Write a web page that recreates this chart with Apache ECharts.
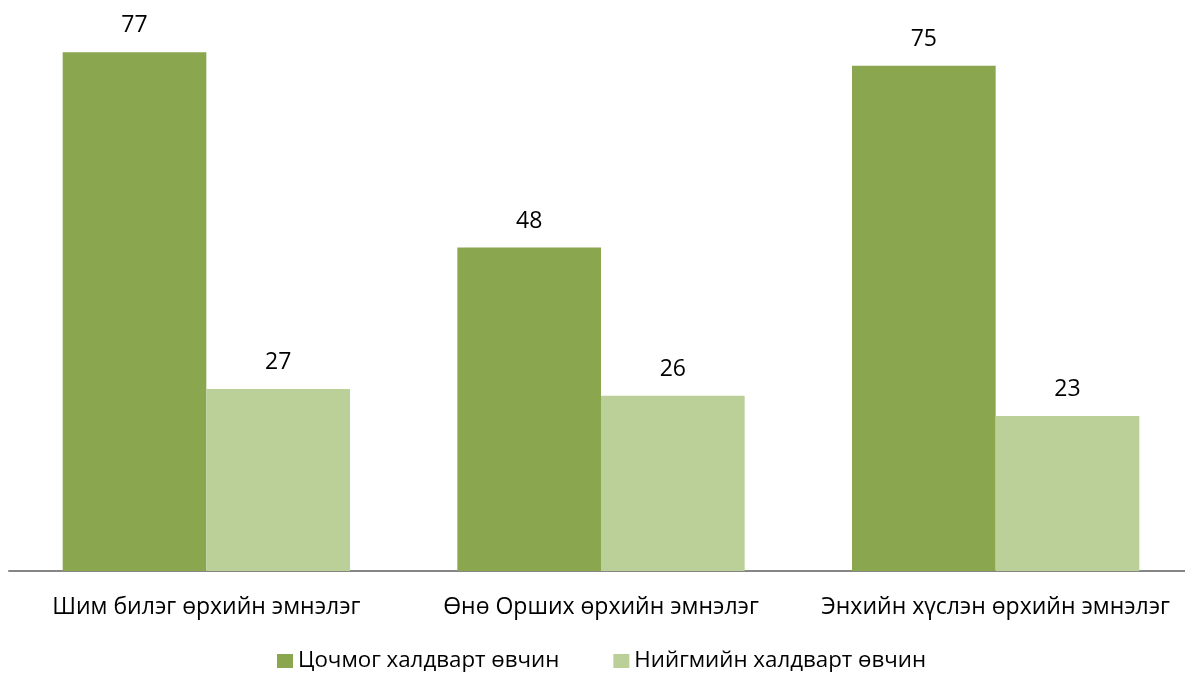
<!DOCTYPE html>
<html>
<head>
<meta charset="utf-8">
<script src="https://cdn.jsdelivr.net/npm/echarts@6/dist/echarts.min.js"></script>
<style>html,body{margin:0;padding:0;background:#fff;}#c{width:1185px;height:675px;}</style>
</head>
<body>
<div id="c"></div>
<script>
const categories = ['Шим билэг өрхийн эмнэлэг', 'Өнө Орших өрхийн эмнэлэг', 'Энхийн хүслэн өрхийн эмнэлэг'];
const seriesNames = ['Цочмог халдварт өвчин', 'Нийгмийн халдварт өвчин'];
const acuteValues = [77, 48, 75];
const socialValues = [27, 26, 23];

const font = '"Open Sans", "Liberation Sans", sans-serif';
const chart = echarts.init(document.getElementById('c'));
chart.setOption({
  animation: false,
  textStyle: { fontFamily: font },
  grid: { left: 9, width: 1184, top: 32, bottom: 104, containLabel: false, outerBoundsMode: 'none' },
  legend: {
    top: 650,
    left: 277,
    padding: 0,
    itemWidth: 16,
    itemHeight: 14,
    itemGap: 54,
    icon: 'rect',
    textStyle: { fontFamily: font, fontSize: 22.3, color: '#000' },
    data: seriesNames
  },
  xAxis: {
    type: 'category',
    data: categories,
    axisTick: { show: false },
    axisLine: { lineStyle: { color: '#868686', width: 2 } },
    axisLabel: { fontFamily: font, fontSize: 23, color: '#000', margin: 25, interval: 0, hideOverlap: false }
  },
  yAxis: {
    type: 'value',
    min: 0,
    max: 80,
    show: false,
    splitLine: { show: false }
  },
  series: [
    {
      name: seriesNames[0],
      type: 'bar',
      data: acuteValues,
      barWidth: '36.4%',
      barGap: '0%',
      itemStyle: { color: '#8AA64F' },
      label: { show: true, position: 'top', distance: 15, fontFamily: font, fontSize: 23, color: '#000' }
    },
    {
      name: seriesNames[1],
      type: 'bar',
      data: socialValues,
      barWidth: '36.4%',
      barGap: '0%',
      itemStyle: { color: '#BBCF99' },
      label: { show: true, position: 'top', distance: 15, fontFamily: font, fontSize: 23, color: '#000' }
    }
  ]
});
</script>
</body>
</html>
